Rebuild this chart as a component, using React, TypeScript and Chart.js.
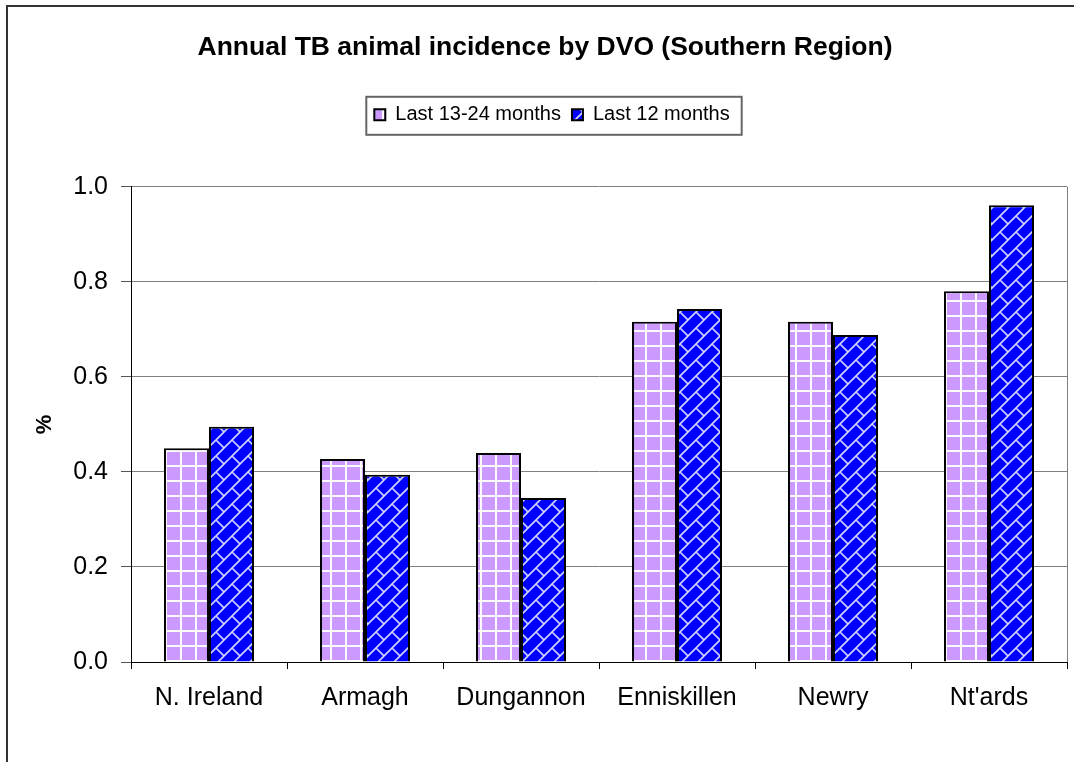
import React, { useEffect, useRef } from 'react';
import { Chart, registerables } from 'chart.js';

Chart.register(...registerables);

const categories = ['N. Ireland', 'Armagh', 'Dungannon', 'Enniskillen', 'Newry', "Nt'ards"];
const seriesNames = ['Last 13-24 months', 'Last 12 months'];
const prevYear = [0.45, 0.427, 0.44, 0.716, 0.716, 0.78];
const lastYear = [0.495, 0.394, 0.345, 0.743, 0.688, 0.961];
const yTicks = [0, 0.2, 0.4, 0.6, 0.8, 1.0];
const titleText = 'Annual TB animal incidence by DVO (Southern Region)';
const yAxisTitle = '%';

const FONT = "'Liberation Sans', Arial, Helvetica, sans-serif";
const LEGEND_SHIFT = 7;

function makeGridPattern(ctx: CanvasRenderingContext2D) {
  const s = 15;
  const c = document.createElement('canvas');
  c.width = s;
  c.height = s;
  const g = c.getContext('2d')!;
  g.fillStyle = '#CC99FF';
  g.fillRect(0, 0, s, s);
  g.fillStyle = 'rgba(255,255,255,0.95)';
  g.fillRect(0, 0, s, 2);
  g.fillRect(0, 0, 2, s);
  return ctx.createPattern(c, 'repeat')!;
}

function makeBrickPattern(ctx: CanvasRenderingContext2D) {
  const s = 16;
  const c = document.createElement('canvas');
  c.width = s;
  c.height = s;
  const g = c.getContext('2d')!;
  g.fillStyle = '#0000FF';
  g.fillRect(0, 0, s, s);
  g.strokeStyle = 'rgba(220,225,255,0.95)';
  g.lineWidth = 1.6;
  g.beginPath();
  g.moveTo(-2, s + 2);
  g.lineTo(s + 2, -2);
  g.moveTo(-2, 2);
  g.lineTo(2, -2);
  g.moveTo(s - 2, s + 2);
  g.lineTo(s + 2, s - 2);
  g.moveTo(s / 2, s / 2);
  g.lineTo(s, s);
  g.stroke();
  return ctx.createPattern(c, 'repeat')!;
}

export default function App() {
  const ref = useRef<HTMLCanvasElement>(null);

  useEffect(() => {
    const canvas = ref.current!;
    const ctx = canvas.getContext('2d')!;
    const purple = makeGridPattern(ctx);
    const blue = makeBrickPattern(ctx);

    const legendSpacer = {
      id: 'legendSpacer',
      afterInit(chart: any) {
        const lg = chart.legend;
        if (lg && !lg.__patched) {
          const origFit = lg.fit;
          lg.fit = function () {
            origFit.call(this);
            this.height += 52;
          };
          const origDraw = lg.draw;
          lg.draw = function (...args: any[]) {
            const c = this.ctx;
            c.save();
            c.translate(LEGEND_SHIFT, 0);
            origDraw.apply(this, args);
            c.restore();
          };
          lg.__patched = true;
        }
      },
    };

    const legendFrame = {
      id: 'legendFrame',
      afterDraw(chart: any) {
        const hb = chart.legend && chart.legend.legendHitBoxes;
        if (!hb || !hb.length) return;
        const first = hb[0];
        const last = hb[hb.length - 1];
        const x0 = first.left - 8 + LEGEND_SHIFT;
        const x1 = last.left + last.width + 12 + LEGEND_SHIFT;
        const y0 = first.top - 8;
        const y1 = first.top + first.height + 10;
        const c = chart.ctx;
        c.save();
        c.strokeStyle = '#666';
        c.lineWidth = 2;
        c.strokeRect(x0, y0, x1 - x0, y1 - y0);
        c.restore();
      },
    };

    const plotBorder = {
      id: 'plotBorder',
      beforeDatasetsDraw(chart: any) {
        const { ctx: c, chartArea: a } = chart;
        c.save();
        c.strokeStyle = '#808080';
        c.lineWidth = 1;
        c.beginPath();
        c.moveTo(Math.round(a.right) + 0.5, a.top);
        c.lineTo(Math.round(a.right) + 0.5, a.bottom);
        c.stroke();
        c.restore();
      },
    };

    const chart = new Chart(canvas, {
      type: 'bar',
      data: {
        labels: categories,
        datasets: [
          {
            label: seriesNames[0],
            data: prevYear,
            backgroundColor: purple as any,
            borderColor: '#000',
            borderWidth: 2,
          },
          {
            label: seriesNames[1],
            data: lastYear,
            backgroundColor: blue as any,
            borderColor: '#000',
            borderWidth: 2,
          },
        ],
      },
      options: {
        responsive: false,
        animation: false,
        devicePixelRatio: 1,
        layout: { padding: { left: 23, right: 7, top: 0, bottom: 40 } },
        datasets: { bar: { categoryPercentage: 0.577, barPercentage: 1 } } as any,
        plugins: {
          title: {
            display: true,
            text: titleText,
            color: '#000',
            font: { family: FONT, size: 26.5, weight: 'bold' },
            padding: { top: 32, bottom: 30 },
          },
          legend: {
            display: true,
            position: 'top',
            labels: {
              color: '#000',
              font: { family: FONT, size: 20 },
              boxWidth: 11,
              boxHeight: 11,
              padding: 11,
            },
          },
          tooltip: { enabled: false },
        },
        scales: {
          x: {
            grid: {
              display: true,
              drawOnChartArea: false,
              offset: true,
              tickLength: 7,
              tickColor: '#000',
            },
            border: { color: '#000', width: 1 },
            ticks: {
              color: '#000',
              font: { family: FONT, size: 25 },
              padding: 14,
              maxRotation: 0,
              autoSkip: false,
            },
            afterFit(s: any) {
              s.height = 60;
            },
          },
          y: {
            min: 0,
            max: 1,
            afterBuildTicks(s: any) {
              s.ticks = yTicks.map((v) => ({ value: v }));
            },
            ticks: {
              color: '#000',
              font: { family: FONT, size: 25 },
              padding: 13,
              callback: (v: any) => Number(v).toFixed(1),
            },
            grid: {
              color: '#808080',
              lineWidth: 1,
              tickLength: 10,
              tickColor: '#555',
            },
            border: { color: '#000', width: 1 },
            title: {
              display: true,
              text: yAxisTitle,
              color: '#000',
              font: { family: FONT, size: 22, weight: 'bold' },
              padding: { top: 9, bottom: 0 },
            },
            afterFit(s: any) {
              s.width = 108;
            },
          },
        },
      },
      plugins: [legendSpacer, legendFrame, plotBorder],
    });

    return () => chart.destroy();
  }, []);

  return (
    <div
      style={{
        position: 'fixed',
        left: 0,
        top: 0,
        width: 1074,
        height: 762,
        overflow: 'hidden',
        background: '#fff',
      }}
    >
      <div
        style={{
          position: 'absolute',
          left: 6,
          top: 5,
          width: 1200,
          height: 900,
          border: '2px solid #333',
        }}
      />
      <canvas
        ref={ref}
        width={1074}
        height={762}
        style={{ position: 'absolute', left: 0, top: 0 }}
      />
    </div>
  );
}
